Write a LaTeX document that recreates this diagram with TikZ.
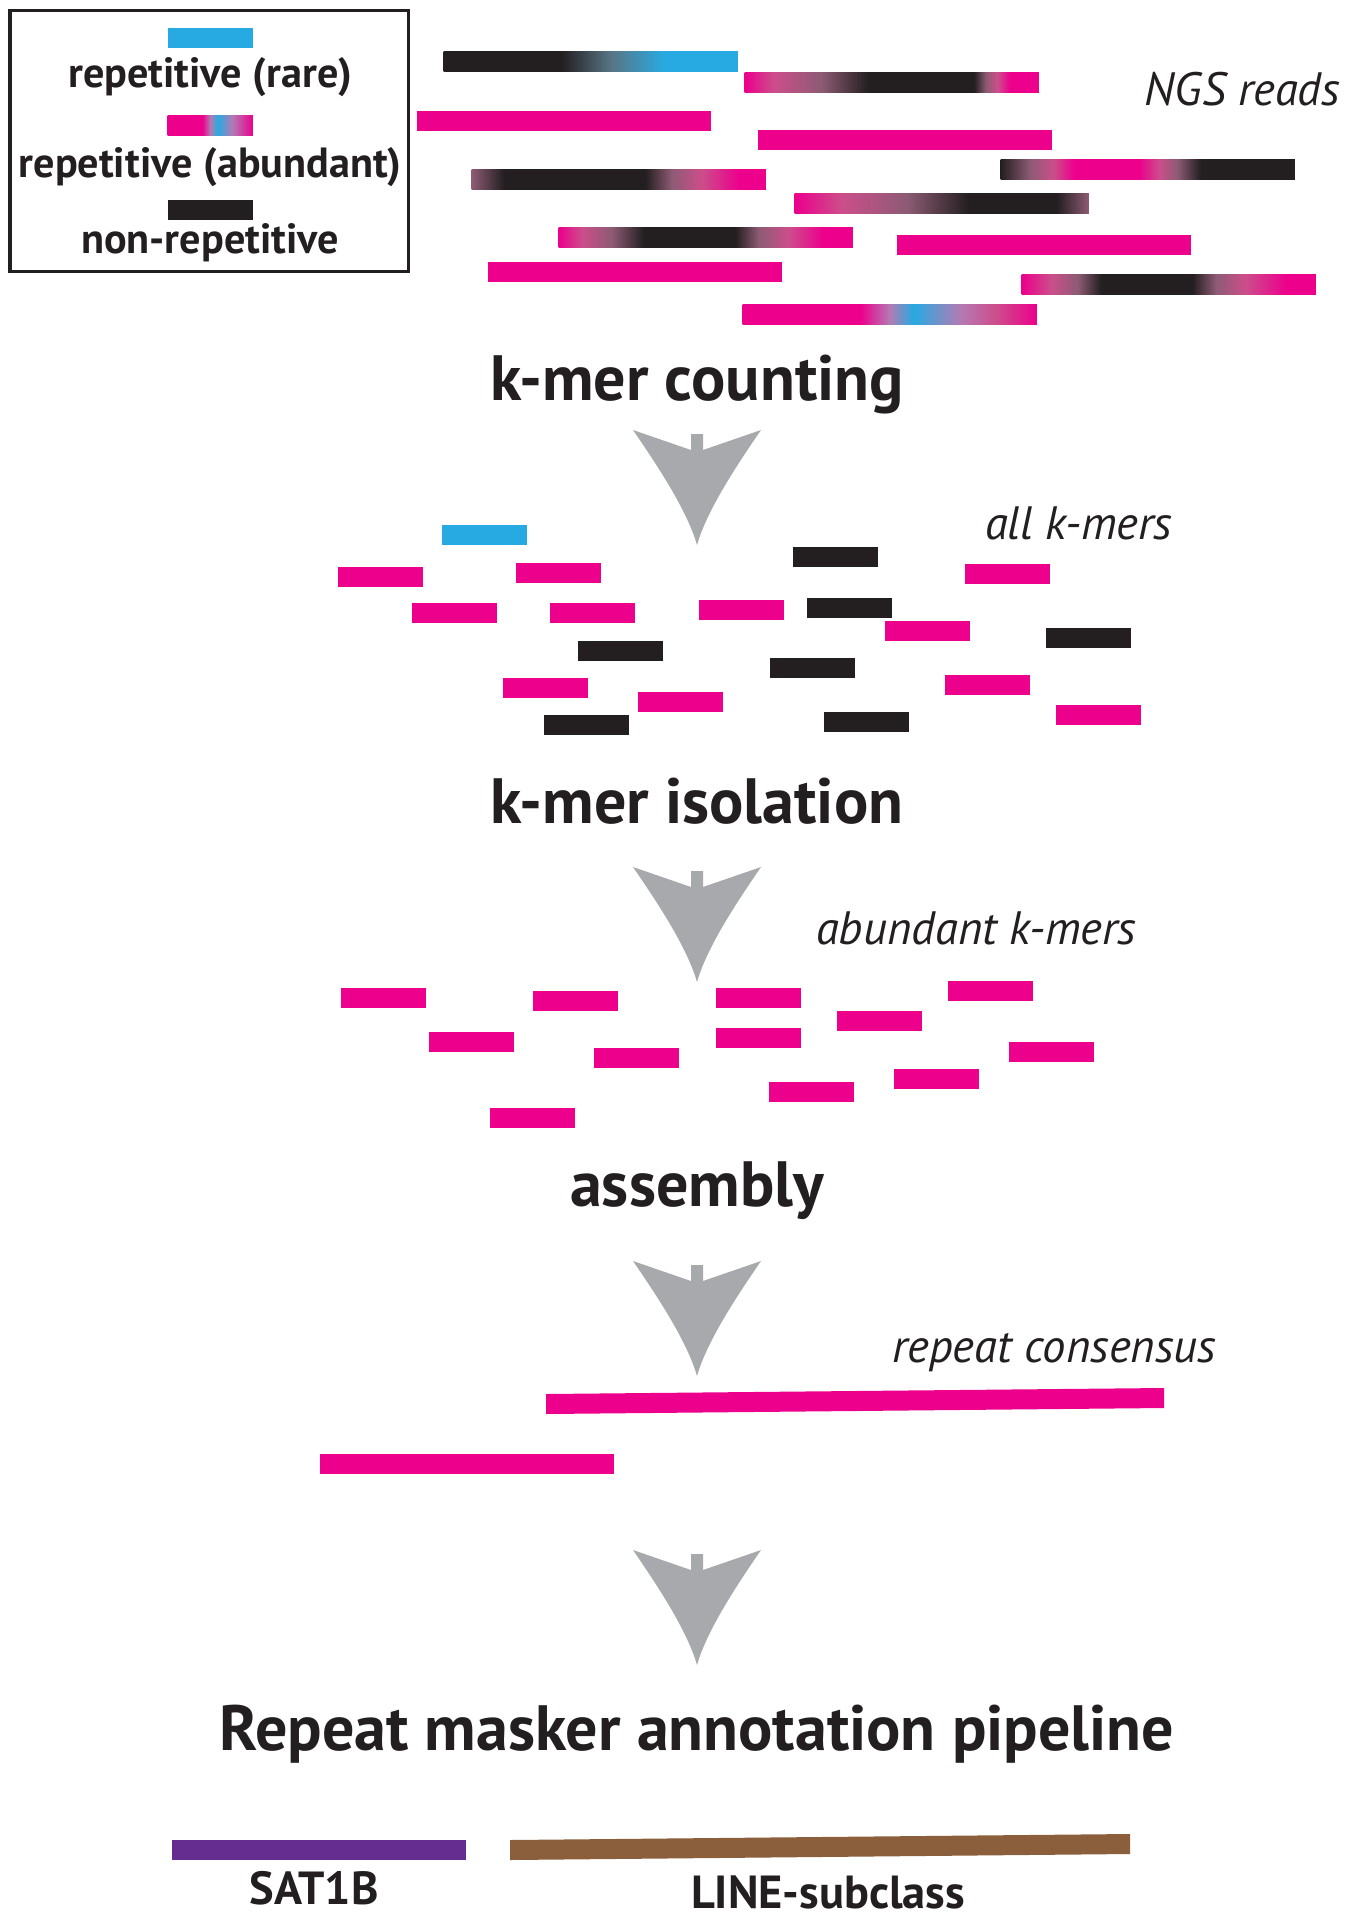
\documentclass[tikz,border=0pt]{standalone}
\usepackage{fontspec}
\setmainfont{PT Sans}

\definecolor{kpink}{HTML}{EC008C}
\definecolor{kblue}{HTML}{27AAE1}
\definecolor{kblack}{HTML}{231F20}
\definecolor{kgray}{HTML}{A7A9AC}
\definecolor{kpurple}{HTML}{662D91}
\definecolor{kbrown}{HTML}{8B5E3C}
\definecolor{krose}{HTML}{CC4E8B}
\definecolor{kmauve}{HTML}{8D5B74}
\definecolor{kslate}{HTML}{587586}
\definecolor{klilac}{HTML}{B47AB4}

% colour runs along the reads (the bar spans 25bp to 75bp)
\pgfdeclarehorizontalshading{mixlegend}{100bp}{color(0bp)=(kpink); color(45.5bp)=(kpink); color(50bp)=(klilac); color(54.5bp)=(kblue); color(63bp)=(klilac); color(75bp)=(kpink); color(100bp)=(kpink)}
\pgfdeclarehorizontalshading{readA}{100bp}{color(0bp)=(kblack); color(45bp)=(kblack); color(53.5bp)=(kslate); color(62.5bp)=(kblue); color(100bp)=(kblue)}
\pgfdeclarehorizontalshading{readB}{100bp}{color(0bp)=(kpink); color(25bp)=(kpink); color(30bp)=(krose); color(38bp)=(kmauve); color(46bp)=(kblack); color(64bp)=(kblack); color(66bp)=(kmauve); color(68bp)=(krose); color(70bp)=(kpink); color(100bp)=(kpink)}
\pgfdeclarehorizontalshading{readC}{100bp}{color(0bp)=(kmauve); color(25bp)=(kmauve); color(30.5bp)=(kblack); color(54.5bp)=(kblack); color(59bp)=(kmauve); color(64bp)=(krose); color(70.5bp)=(kpink); color(100bp)=(kpink)}
\pgfdeclarehorizontalshading{readD}{100bp}{color(0bp)=(kblack); color(25bp)=(kblack); color(30bp)=(kmauve); color(34bp)=(krose); color(37.5bp)=(kpink); color(48.5bp)=(kpink); color(52bp)=(krose); color(55bp)=(kmauve); color(59bp)=(kblack); color(100bp)=(kblack)}
\pgfdeclarehorizontalshading{readE}{100bp}{color(0bp)=(kpink); color(25bp)=(kpink); color(33bp)=(krose); color(44bp)=(kmauve); color(54.5bp)=(kblack); color(69.5bp)=(kblack); color(75bp)=(kmauve); color(100bp)=(kmauve)}
\pgfdeclarehorizontalshading{readF}{100bp}{color(0bp)=(kpink); color(25bp)=(kpink); color(29bp)=(krose); color(34bp)=(kmauve); color(39.5bp)=(kblack); color(55bp)=(kblack); color(59bp)=(kmauve); color(64bp)=(krose); color(70bp)=(kpink); color(100bp)=(kpink)}
\pgfdeclarehorizontalshading{readG}{100bp}{color(0bp)=(kpink); color(25bp)=(kpink); color(30bp)=(krose); color(34.5bp)=(kmauve); color(38.5bp)=(kblack); color(54bp)=(kblack); color(58bp)=(kmauve); color(63bp)=(krose); color(70bp)=(kpink); color(100bp)=(kpink)}
\pgfdeclarehorizontalshading{readH}{100bp}{color(0bp)=(kpink); color(45bp)=(kpink); color(50bp)=(klilac); color(54bp)=(kblue); color(62bp)=(klilac); color(68bp)=(krose); color(75bp)=(kpink); color(100bp)=(kpink)}

\begin{document}
\begin{tikzpicture}[x=0.01cm, y=-0.01cm,
% common options for the bars:
read/.style = {rectangle, anchor=north west, inner sep=0,
            minimum width=2.94cm, minimum height=0.2cm},
kmer/.style = {rectangle, anchor=north west, inner sep=0,
            minimum width=0.85cm, minimum height=0.2cm},
% common options for the texts:
stage/.style = {anchor=base, inner sep=0, text=kblack,
            font=\fontsize{18.2}{21}\selectfont\bfseries},
tag/.style = {anchor=base east, inner sep=0, text=kblack,
            font=\fontsize{13.3}{15}\selectfont\itshape},
legtext/.style = {anchor=base, inner sep=0, text=kblack,
            font=\fontsize{12}{14}\selectfont\bfseries}]
\useasboundingbox (0,0) rectangle (1349,1920);
% legend
\draw[line width=0.03cm, kblack] (10,10) rectangle (408,271);
\node[kmer, fill=kblue] (LB1) at (167,27) {};
\node[kmer, shade, shading=mixlegend] (LB2) at (167,115) {};
\node[kmer, fill=kblack] (LB3) at (167,199) {};
\node[legtext] (LT1) at (210,87) {repetitive (rare)};
\node[legtext] (LT2) at (210,177) {repetitive (abundant)};
\node[legtext] (LT3) at (210,253) {non-repetitive};
% NGS reads
\node[read, shade, shading=readA] (R1) at (443,51) {};
\node[read, shade, shading=readB] (R2) at (744,72) {};
\node[read, fill=kpink] (R3) at (416,110) {};
\node[read, fill=kpink] (R4) at (757,129) {};
\node[read, shade, shading=readD] (R6) at (1000,159) {};
\node[read, shade, shading=readC] (R5) at (471,169) {};
\node[read, shade, shading=readE] (R7) at (794,193) {};
\node[read, shade, shading=readF] (R8) at (558,227) {};
\node[read, fill=kpink] (R9) at (896,234) {};
\node[read, fill=kpink] (R10) at (487,261) {};
\node[read, shade, shading=readG] (R11) at (1021,274) {};
\node[read, shade, shading=readH] (R12) at (742,304) {};
\node[tag] (T1) at (1341,105) {NGS reads};
% steps
\foreach \ay in {430,867,1261,1550}
  \fill[kgray, shift={(697,\ay)}] (-64,0) -- (-6,20) -- (-6,4) -- (6,4) -- (6,20) -- (64,0)
    .. controls (40,35) and (10,80) .. (0,115) .. controls (-10,80) and (-40,35) .. (-64,0) -- cycle;
\node[stage] (S1) at (697,400) {k-mer counting};
\node[stage] (S2) at (697,823) {k-mer isolation};
\node[stage] (S3) at (697,1206) {assembly};
\node[stage] (S4) at (697,1750) {Repeat masker annotation pipeline};
% all k-mers
\node[tag] (T2) at (1173,539) {all k-mers};
\node[kmer, fill=kblue] (K1) at (441,524) {};
\node[kmer, fill=kpink] (K2) at (337,566) {};
\node[kmer, fill=kpink] (K3) at (515,562) {};
\node[kmer, fill=kpink] (K4) at (411,602) {};
\node[kmer, fill=kpink] (K5) at (549,602) {};
\node[kmer, fill=kpink] (K6) at (698,599) {};
\node[kmer, fill=kblack] (K7) at (577,640) {};
\node[kmer, fill=kpink] (K8) at (502,677) {};
\node[kmer, fill=kpink] (K9) at (637,691) {};
\node[kmer, fill=kblack] (K10) at (543,714) {};
\node[kmer, fill=kblack] (K11) at (792,546) {};
\node[kmer, fill=kblack] (K12) at (806,597) {};
\node[kmer, fill=kblack] (K13) at (769,657) {};
\node[kmer, fill=kblack] (K14) at (823,711) {};
\node[kmer, fill=kpink] (K15) at (964,563) {};
\node[kmer, fill=kpink] (K16) at (884,620) {};
\node[kmer, fill=kblack] (K17) at (1045,627) {};
\node[kmer, fill=kpink] (K18) at (944,674) {};
\node[kmer, fill=kpink] (K19) at (1055,704) {};
% abundant k-mers
\node[tag] (T3) at (1137,944) {abundant k-mers};
\node[kmer, fill=kpink] (A1) at (340,987) {};
\node[kmer, fill=kpink] (A2) at (532,990) {};
\node[kmer, fill=kpink] (A3) at (428,1031) {};
\node[kmer, fill=kpink] (A4) at (593,1047) {};
\node[kmer, fill=kpink] (A5) at (715,987) {};
\node[kmer, fill=kpink] (A6) at (715,1027) {};
\node[kmer, fill=kpink] (A7) at (489,1107) {};
\node[kmer, fill=kpink] (A8) at (768,1081) {};
\node[kmer, fill=kpink] (A9) at (836,1010) {};
\node[kmer, fill=kpink] (A10) at (947,980) {};
\node[kmer, fill=kpink] (A11) at (893,1068) {};
\node[kmer, fill=kpink] (A12) at (1008,1041) {};
% repeat consensus
\node[tag] (T4) at (1217,1362) {repeat consensus};
\fill[kpink] (546,1394) -- (1164,1388) -- (1164,1408) -- (546,1414) -- cycle;
\node[read, fill=kpink] (C2) at (319,1453) {};
% annotation
\node[read, fill=kpurple] (M1) at (171,1839) {};
\fill[kbrown] (510,1840) -- (1130,1834) -- (1130,1854) -- (510,1860) -- cycle;
\node[legtext, font=\fontsize{13.2}{15}\selectfont\bfseries] (B1) at (314,1904) {SAT1B};
\node[legtext, font=\fontsize{13.2}{15}\selectfont\bfseries] (B2) at (828,1908) {LINE-subclass};
\end{tikzpicture}
\end{document}
